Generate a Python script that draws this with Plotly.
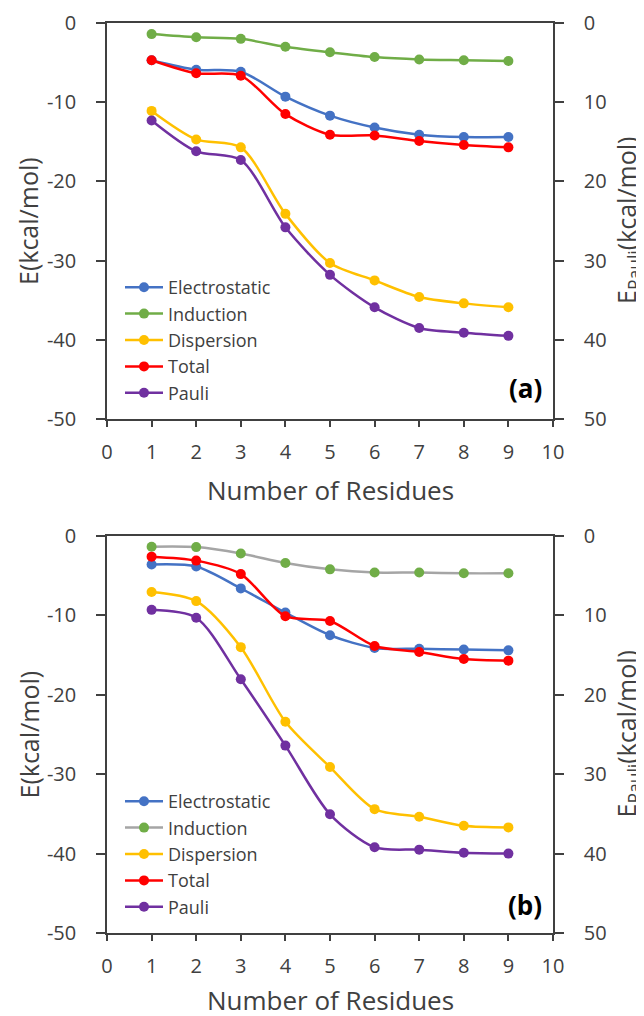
import plotly.graph_objects as go

residues = [1, 2, 3, 4, 5, 6, 7, 8, 9]
series_names = ["Electrostatic", "Induction", "Dispersion", "Total", "Pauli"]

# Panel (a)
a_electrostatic = [-4.7, -5.9, -6.15, -9.3, -11.7, -13.2, -14.1, -14.4, -14.4]
a_induction = [-1.4, -1.8, -2.0, -3.0, -3.7, -4.3, -4.6, -4.7, -4.8]
a_dispersion = [-11.1, -14.7, -15.7, -24.1, -30.3, -32.5, -34.6, -35.4, -35.9]
a_total = [-4.7, -6.35, -6.65, -11.5, -14.1, -14.2, -14.9, -15.4, -15.7]
a_pauli = [12.3, 16.2, 17.3, 25.8, 31.8, 35.9, 38.5, 39.1, 39.5]

# Panel (b)
b_electrostatic = [-3.6, -3.85, -6.6, -9.65, -12.5, -14.1, -14.2, -14.3, -14.4]
b_induction = [-1.35, -1.4, -2.2, -3.4, -4.2, -4.6, -4.6, -4.7, -4.7]
b_dispersion = [-7.05, -8.2, -14.0, -23.4, -29.1, -34.4, -35.35, -36.5, -36.7]
b_total = [-2.6, -3.1, -4.8, -10.1, -10.7, -13.85, -14.6, -15.5, -15.7]
b_pauli = [9.3, 10.3, 18.05, 26.4, 35.05, 39.2, 39.5, 39.9, 40.0]

x_ticks = [0, 1, 2, 3, 4, 5, 6, 7, 8, 9, 10]
left_ticks = [0, -10, -20, -30, -40, -50]
left_labels = ["0", "-10", "-20", "-30", "-40", "-50"]
right_ticks = [0, 10, 20, 30, 40, 50]
right_labels = ["0", "10", "20", "30", "40", "50"]

C_ELEC = "#4472C4"
C_IND = "#70AD47"
C_DISP = "#FFC000"
C_TOT = "#FF0000"
C_PAULI = "#7030A0"
C_GRAY = "#A5A5A5"
TXT = "#404040"
AX = "#404040"
FONT = "Open Sans"

# page body has an 8px default margin
OFF = 8
W, H = 644 - OFF, 1016 - OFF
def px_x(p):
    return (p - OFF) / W
def px_y(p):
    return 1 - (p - OFF) / H

xd = [px_x(107), px_x(553)]
ya = [px_y(419), px_y(23)]
yb = [px_y(933), px_y(536)]

fig = go.Figure()

def add_panel(vals, xa, yl, yr, legend, ind_line_color):
    elec, ind, disp, tot, pauli = vals
    specs = [
        ("Electrostatic", elec, C_ELEC, C_ELEC, yl),
        ("Induction", ind, ind_line_color, C_IND, yl),
        ("Dispersion", disp, C_DISP, C_DISP, yl),
        ("Total", tot, C_TOT, C_TOT, yl),
        ("Pauli", pauli, C_PAULI, C_PAULI, yr),
    ]
    for name, ys, lc, mc, yaxis in specs:
        fig.add_trace(go.Scatter(
            x=residues, y=ys, name=name, mode="lines+markers",
            line=dict(color=lc, width=2.5, shape="spline", smoothing=0.8),
            marker=dict(color=mc, size=10),
            xaxis=xa, yaxis=yaxis, legend=legend,
        ))

add_panel([a_electrostatic, a_induction, a_dispersion, a_total, a_pauli],
          "x", "y", "y2", "legend", C_IND)
add_panel([b_electrostatic, b_induction, b_dispersion, b_total, b_pauli],
          "x2", "y3", "y4", "legend2", C_GRAY)

tickfont = dict(family=FONT, size=20, color=TXT)

def xaxis_cfg(anchor):
    return dict(domain=xd, anchor=anchor, range=[0, 10], tickvals=x_ticks,
                ticktext=[str(v) for v in x_ticks], showline=True, mirror=True,
                linecolor=AX, linewidth=1.5, ticks="outside", ticklen=6,
                tickcolor=AX, tickwidth=1.5, showgrid=False, zeroline=False,
                tickfont=tickfont, ticklabelstandoff=8, automargin=False)

def yl_cfg(dom):
    return dict(domain=dom, range=[-50, 0], tickvals=left_ticks, ticktext=left_labels,
                showline=True, linecolor=AX, linewidth=1.5, ticks="outside",
                ticklen=9, tickcolor=AX, tickwidth=1.5, showgrid=False,
                zeroline=False, tickfont=tickfont, ticklabelstandoff=16,
                automargin=False)

def yr_cfg(over, anchor):
    return dict(overlaying=over, anchor=anchor, side="right", range=[50, 0],
                tickvals=right_ticks, ticktext=right_labels, showline=True,
                linecolor=AX, linewidth=1.5, ticks="outside", ticklen=9,
                tickcolor=AX, tickwidth=1.5, showgrid=False, zeroline=False,
                tickfont=tickfont, ticklabelstandoff=16, automargin=False)

legfont = dict(family=FONT, size=18, color=TXT)
fig.update_layout(
    width=W, height=H, margin=dict(l=0, r=0, t=0, b=0, pad=0, autoexpand=False),
    paper_bgcolor="white", plot_bgcolor="white",
    xaxis=xaxis_cfg("y"), yaxis=yl_cfg(ya), yaxis2=yr_cfg("y", "x"),
    xaxis2=xaxis_cfg("y3"), yaxis3=yl_cfg(yb), yaxis4=yr_cfg("y3", "x2"),
    legend=dict(x=px_x(120), y=px_y(269), xanchor="left", yanchor="top",
                bgcolor="rgba(0,0,0,0)", font=legfont, itemwidth=38,
                tracegroupgap=0),
    legend2=dict(x=px_x(120), y=px_y(783), xanchor="left", yanchor="top",
                 bgcolor="rgba(0,0,0,0)", font=legfont, itemwidth=38,
                 tracegroupgap=0),
)

ann_font = dict(family=FONT, size=25, color=TXT)
for yc_top, yc_bot, xt_y, lab, lab_y in [(23, 419, 490, "(a)", 388), (536, 933, 1000, "(b)", 905)]:
    yc = (yc_top + yc_bot) / 2
    fig.add_annotation(x=px_x(28), y=px_y(yc), xref="paper", yref="paper",
                       text="E(kcal/mol)", textangle=-90, showarrow=False,
                       font=ann_font, xanchor="center", yanchor="middle")
    fig.add_annotation(x=px_x(627), y=px_y(yc), xref="paper", yref="paper",
                       text="E<sub>Pauli</sub>(kcal/mol)", textangle=-90, showarrow=False,
                       font=ann_font, xanchor="center", yanchor="middle")
    fig.add_annotation(x=px_x(330), y=px_y(xt_y), xref="paper", yref="paper",
                       text="Number of Residues", showarrow=False,
                       font=dict(family=FONT, size=26, color=TXT),
                       xanchor="center", yanchor="middle")
    fig.add_annotation(x=px_x(525), y=px_y(lab_y), xref="paper", yref="paper",
                       text="<b>%s</b>" % lab, showarrow=False,
                       font=dict(family=FONT, size=26, color="black"),
                       xanchor="center", yanchor="middle")

fig.write_html("out.html")
